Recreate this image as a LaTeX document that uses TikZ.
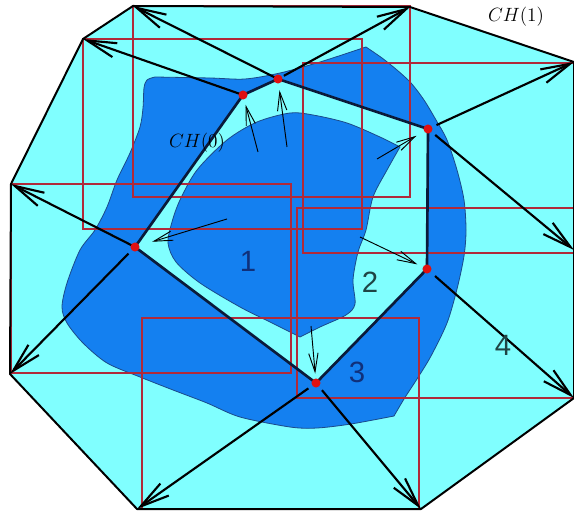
\documentclass[tikz,border=0pt]{standalone}
\usepackage{fontspec}
\newfontfamily\numfont{Liberation Sans}
\usetikzlibrary{arrows.meta}
\definecolor{Sky}{HTML}{80FFFF}
\definecolor{Ocean}{HTML}{1480F0}
\definecolor{Navy}{HTML}{1B4A8A}
\definecolor{Brick}{HTML}{B02A3A}
\definecolor{Dot}{HTML}{E01010}
\definecolor{Slate}{HTML}{1F4545}
\definecolor{Deep}{HTML}{10307A}
\definecolor{Ink}{HTML}{0A1A3A}

\begin{document}
\begin{tikzpicture}[x=0.75pt,y=-0.75pt,every node/.style={inner sep=0pt},
    hull/.style={draw=black,line width=1.5pt,line join=round},
    box/.style={draw=Brick,line width=1.6pt},
    blob/.style={fill=Ocean,draw=Navy,line width=0.6pt},
    big/.style={-{Straight Barb[length=22pt,width=11pt]},line width=1.6pt},
    small/.style={-{Straight Barb[length=14pt,width=7pt]},line width=0.7pt},
    num/.style={font=\fontsize{22}{24}\selectfont\numfont}]
      \useasboundingbox (0,0) rectangle (574,516);

      \coordinate (q1) at (133,6);
      \coordinate (q2) at (410,7);
      \coordinate (q3) at (574,62);
      \coordinate (q4) at (574,398);
      \coordinate (q5) at (421,509);
      \coordinate (q6) at (137,509);
      \coordinate (q7) at (10,374);
      \coordinate (q8) at (11,184);
      \coordinate (q9) at (83,39);
      \coordinate (q10) at (574,250);

      \coordinate (p1) at (243,95);
      \coordinate (p2) at (278,79);
      \coordinate (p3) at (428,129);
      \coordinate (p4) at (427,269);
      \coordinate (p5) at (316,383);
      \coordinate (p6) at (135,247);

      \coordinate (t1) at (258,152);
      \coordinate (t2) at (287,147);
      \coordinate (t3) at (377,159);
      \coordinate (t4) at (360,237);
      \coordinate (t5) at (311,326);
      \coordinate (t6) at (227,219);

      \fill[Sky] (q1) -- (q2) -- (q3) -- (q4) -- (q5) -- (q6) -- (q7) -- (q8) -- (q9) -- cycle;

      \draw[blob] plot[smooth] coordinates {(366,47) (382,58) (397,70) (411,83) (424,100) (436,120) (447,140) (457,170) (464,200) (466,230) (464,256) (457,289) (447,323) (431,356) (417,379) (404,399) (394,416)}
        -- plot[smooth] coordinates {(394,416) (351,424) (317,428) (290,427) (240,417) (207,403) (173,390) (140,377) (107,363) (83,343) (67,323) (62,307) (67,283) (80,250) (95,230) (107,207) (117,180) (130,153) (140,127) (143,108) (144,88) (147,80) (155,77)}
        -- plot[smooth] coordinates {(155,77) (210,78) (245,79) (280,73) (320,62) (366,47)} -- cycle;

      \fill[Sky] (p1) -- (p2) -- (p3) -- (p4) -- (p5) -- (p6) -- cycle;

      \draw[blob] plot[smooth] coordinates {(400,147) (387,170) (373,197) (366,230) (358,252) (353,280) (355,304) (346,315) (320,327) (300,337)}
        -- plot[smooth] coordinates {(300,337) (270,322) (240,307) (200,283) (176,262) (168,243) (172,222) (180,200) (197,170) (227,140) (257,122) (290,113) (313,115) (347,123) (380,137) (400,147)} -- cycle;

      \foreach \xa/\ya/\xb/\yb in {133/6/410/197,83/39/362/229,303/63/574/253,297/208/574/398,142/318/419/509,11/184/291/373}
        \draw[box] (\xa,\ya) rectangle (\xb,\yb);

      \draw[hull] (q1) -- (q2) -- (q3) -- (q4) -- (q5) -- (q6) -- (q7) -- (q8) -- (q9) -- cycle;
      \draw[draw=Ink,line width=2pt,line join=round] (p1) -- (p2) -- (p3) -- (p4) -- (p5) -- (p6) -- cycle;

      \foreach \a/\b/\s in {p1/q9/0,p2/q1/0,p2/q2/5,p3/q3/7,p3/q10/7,p4/q4/8,p5/q5/7,p5/q6/7,p6/q8/0,p6/q7/7}
        \draw[big,shorten <=\s pt] (\a) -- (\b);

      \foreach \p in {p1,p2,p3,p4,p5,p6}
        \fill[Dot] (\p) circle (3.4pt);

      \foreach \a/\b/\s in {t1/p1/7.5,t2/p2/8.5,t3/p3/10,t4/p4/8,t5/p5/7,t6/p6/13.5}
        \draw[small,shorten >=\s pt] (\a) -- (\b);

      \node[num,text=Deep] (n1) at (248,261) {1};
      \node[num,text=Slate] (n2) at (370,282) {2};
      \node[num,text=Deep] (n3) at (357,372) {3};
      \node[num,text=Slate] (n4) at (503,345) {4};
      \node[font=\fontsize{15.5}{17}\selectfont] (ch0) at (197,143) {$CH(0)$};
      \node[font=\fontsize{15.5}{17}\selectfont] (ch1) at (516,17) {$CH(1)$};
    \end{tikzpicture}
\end{document}
